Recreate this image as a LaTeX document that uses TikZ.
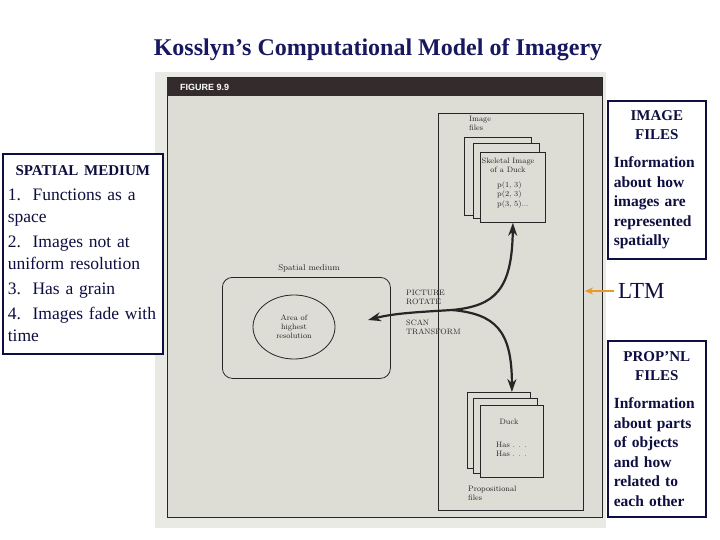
\documentclass[tikz,border=0pt]{standalone}
\usepackage{fontspec}
\newfontfamily\slidefont{Liberation Serif}
\newfontfamily\barfont{Liberation Sans}
\usepackage{xcolor}
\definecolor{titlenavy}{RGB}{24, 24, 96}
\definecolor{boxnavy}{RGB}{14, 14, 64}
\definecolor{pagegray}{RGB}{234, 234, 228}
\definecolor{scangray}{RGB}{221, 221, 213}
\definecolor{bardark}{RGB}{52, 44, 44}
\definecolor{inkgray}{RGB}{38, 38, 38}
\definecolor{ltmorange}{RGB}{232, 152, 40}
\usepackage{tikz}
\usetikzlibrary{arrows.meta, positioning, calc, shapes.geometric}

\begin{document}
\begin{tikzpicture}[x=1pt, y=-1pt, >=Stealth,
    slidebox/.style={draw=boxnavy, line width=1.6pt, fill=white, inner xsep=5pt, inner ysep=0pt,
        anchor=north west, text=boxnavy, align=left},
    figline/.style={draw=inkgray, line width=0.8pt},
    filepage/.style={figline, fill=scangray, anchor=north west, inner sep=0pt},
    figlabel/.style={font=\fontsize{7.8}{9.2}\selectfont, text=inkgray, inner sep=0pt},
    flow/.style={->, line width=2.2pt, draw=inkgray, >={Stealth[length=13pt, width=9pt]}}]
    \useasboundingbox (0,0) rectangle (720,540);

    % title
    \node[font=\slidefont\bfseries\fontsize{24}{28}\selectfont, text=titlenavy] (title) at (378,50)
        {Kosslyn’s Computational Model of Imagery};

    % scanned figure
    \fill[pagegray] (155,72) rectangle (606,528);
    \draw[draw=inkgray, line width=1pt, fill=scangray] (167,78) rectangle (602,517);
    \fill[bardark] (167,78) rectangle (602,96);
    \node[font=\barfont\bfseries\fontsize{9}{10}\selectfont, text=white, anchor=west, inner sep=0pt] (figno)
        at (180,87) {FIGURE 9.9};

    \node[figline, anchor=north west, minimum width=145pt, minimum height=397pt, inner sep=0pt] (ltmbox)
        at (438,113) {};

    % image files
    \node[figlabel, align=left, anchor=west] (imglabel) at (469,123) {Image\\files};
    \node[filepage, minimum width=67pt, minimum height=78pt] (imgback) at (464,137) {};
    \node[filepage, minimum width=66pt, minimum height=75pt] (imgmid) at (473,143) {};
    \node[filepage, minimum width=65pt, minimum height=70pt] (imgfront) at (480,152) {};
    \node[figlabel, align=center] (skeletal) at (508,165) {Skeletal Image\\of a Duck};
    \node[figlabel, align=left, anchor=west] (points) at (497,195) {p(1, 3)\\p(2, 3)\\p(3, 5)...};

    % propositional files
    \node[filepage, minimum width=63pt, minimum height=76pt] (propback) at (467,392) {};
    \node[filepage, minimum width=64pt, minimum height=75pt] (propmid) at (473,398) {};
    \node[filepage, minimum width=63pt, minimum height=72pt] (propfront) at (480,405) {};
    \node[figlabel] (ducklabel) at (509,422) {Duck};
    \node[figlabel, align=left, anchor=west] (haslabel) at (496,449.5) {Has . . .\\Has . . .};
    \node[figlabel, align=left, anchor=west] (proplabel) at (468,493) {Propositional\\files};

    % spatial medium
    \node[figlabel, font=\fontsize{8.4}{10}\selectfont] (mediumlabel) at (309,268) {Spatial medium};
    \node[figline, rounded corners=10pt, anchor=north west, minimum width=168pt, minimum height=101pt,
        inner sep=0pt] (medium) at (222,277) {};
    \node[figline, ellipse, figlabel, align=center, minimum width=82pt, minimum height=64pt] (area)
        at (294,327) {Area of\\highest\\resolution};

    \node[figlabel, align=left, anchor=west] (rotate) at (406,297) {PICTURE\\ROTATE};
    \node[figlabel, align=left, anchor=west] (transform) at (406,327) {SCAN\\TRANSFORM};

    \coordinate (junction) at (452,310);
    \coordinate (areatip) at (368,320);
    \draw[flow] (junction) .. controls (495,306) and (512,290) .. (imgfront.south);
    \draw[flow] (junction) .. controls (495,314) and (512,330) .. (propfront.north |- propback.north);
    \draw[flow] (junction) .. controls (420,312) and (395,313) .. (areatip);

    % slide boxes
    \node[slidebox, minimum height=200pt, text width=150pt, font=\slidefont\fontsize{17.5}{22}\selectfont]
        (spatial) at (2,153)
        {{\centering\bfseries\fontsize{15}{19}\selectfont SPATIAL MEDIUM\par}\vspace{3pt}
        1.\ \ Functions as a\\ space\\[3pt]
        2.\ \ Images not at\\ uniform resolution\\[3pt]
        3.\ \ Has a grain\\[3pt]
        4.\ \ Images fade with\\ time};

    \node[slidebox, minimum height=158pt, text width=86pt, inner xsep=6pt,
        font=\slidefont\bfseries\fontsize{15.5}{19.5}\selectfont] (imagefiles) at (607,100)
        {{\centering\fontsize{15}{19}\selectfont IMAGE\\FILES\par}\vspace{9pt}
        Information\\ about how\\ images are\\ represented\\ spatially};

    \node[slidebox, minimum height=176pt, text width=86pt, inner xsep=6pt,
        font=\slidefont\bfseries\fontsize{15.5}{19.5}\selectfont] (propfiles) at (607,340)
        {{\centering\fontsize{15}{19}\selectfont PROP’NL\\FILES\par}\vspace{9pt}
        Information\\ about parts\\ of objects\\ and how\\ related to\\ each other};

    % LTM
    \node[font=\slidefont\fontsize{23}{27}\selectfont, text=boxnavy, anchor=west, inner sep=0pt] (ltm)
        at (618,291) {LTM};
    \coordinate (ltmtip) at (585,290);
    \draw[->, ltmorange, line width=1.8pt, >={Stealth[length=8pt, width=7pt]}, shorten <=4pt]
        (ltm.west) -- (ltm.west -| ltmtip);
\end{tikzpicture}
\end{document}
